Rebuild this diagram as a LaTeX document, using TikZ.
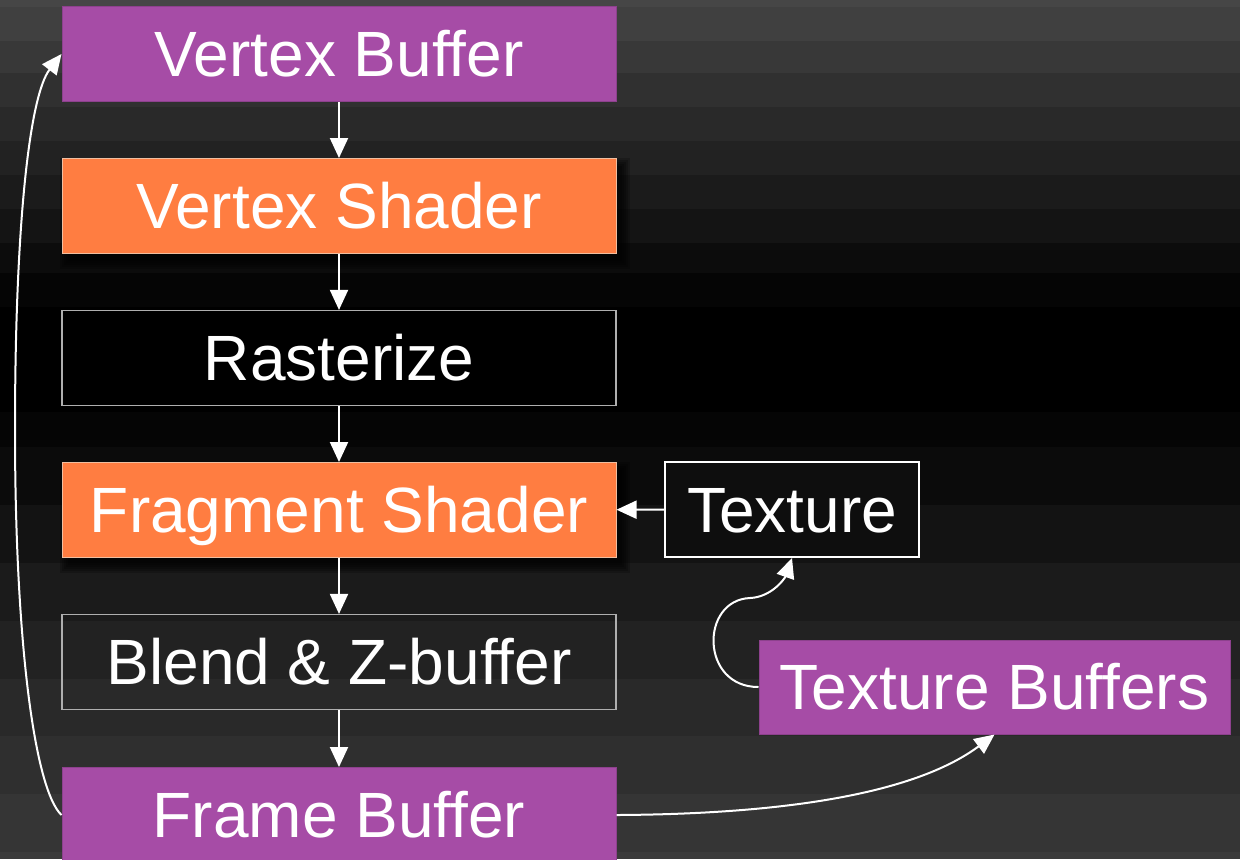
\documentclass[tikz,border=0pt]{standalone}
\usepackage{fontspec}
\setmainfont{Liberation Sans}
\usetikzlibrary{arrows.meta}
\definecolor{pbox}{RGB}{166,76,166}
\definecolor{obox}{RGB}{255,125,65}
\definecolor{oedge}{RGB}{240,190,160}
\definecolor{gedge}{RGB}{175,175,175}
\definecolor{texfill}{RGB}{14,14,14}
\begin{document}
\begin{tikzpicture}[x=0.5pt,y=-0.5pt,
  stage/.style={minimum width=277pt, minimum height=47.5pt, inner sep=0pt,
    text=white, font=\fontsize{32}{38}\selectfont, text height=22.9pt, text depth=0pt},
  purplebox/.style={stage, fill=pbox, draw=pbox!85!black, line width=0.5pt},
  orangebox/.style={stage, fill=obox, draw=oedge, line width=0.5pt},
  plainbox/.style={stage, draw=gedge, line width=0.6pt},
  flow/.style={draw=white, line width=1pt, -{Triangle[length=10pt,width=9pt]}},
  shadowlayer/.style={fill=black, opacity=0.2}
]
\useasboundingbox (0,0) rectangle (1240,859);
\clip (0,0) rectangle (1240,859);
% banded background
\foreach \a/\b/\g in {0/7/70, 7/41/64, 41/73/56, 73/107/48, 107/141/41, 141/175/34,
  175/209/27, 209/243/20, 243/273/12, 273/307/5, 307/412/0, 412/447/5, 447/505/11,
  505/563/19, 563/621/27, 621/679/34, 679/736/41, 736/794/47, 794/852/53, 852/859/59}{
  \definecolor{bandc}{RGB}{\g,\g,\g}
  \fill[bandc] (0,\a) rectangle (1240,\b);
}
% shadows of the shader boxes
\foreach \t in {158,462}{
  \foreach \k in {0,...,4}{
    \fill[shadowlayer] ({68-2*\k},{\t+8-2*\k}) rectangle ({622+2*\k},{\t+103+2*\k});
  }
}
% nodes
\node[purplebox] (vb) at (339,54) {Vertex Buffer};
\node[orangebox] (vs) at (339,206) {Vertex Shader};
\node[plainbox, fill=black] (ras) at (339,358) {Rasterize};
\node[orangebox] (fs) at (339,510) {Fragment Shader};
\node[plainbox] (bl) at (339,662) {Blend \& Z-buffer};
\node[purplebox] (fb) at (339,815) {Frame Buffer};
\node[stage, minimum width=127pt, minimum height=47.5pt, fill=texfill, draw=white, line width=1pt] (tex) at (792,509.5) {Texture};
\node[purplebox, minimum width=235.5pt, minimum height=47pt] (tb) at (994.5,687) {Texture Buffers};
% connectors
\draw[flow] (vb) -- (vs);
\draw[flow] (vs) -- (ras);
\draw[flow] (ras) -- (fs);
\draw[flow] (fs) -- (bl);
\draw[flow] (bl) -- (fb);
\draw[flow] (tex) -- (fs);
\coordinate (lmid) at (15,430);
\draw[flow] (fb.west) .. controls (35,790) and (15,645) .. (lmid)
  .. controls (15,220) and (30,95) .. (vb.west);
\coordinate (tmid) at (750,598);
\draw[flow] (tb.west) .. controls (700,687) and (700,600) .. (tmid)
  .. controls (772,597) and (785,578) .. (tex.south);
\draw[flow] (fb.east) .. controls (800,814) and (920,790) .. (tb.south);
\end{tikzpicture}
\end{document}
